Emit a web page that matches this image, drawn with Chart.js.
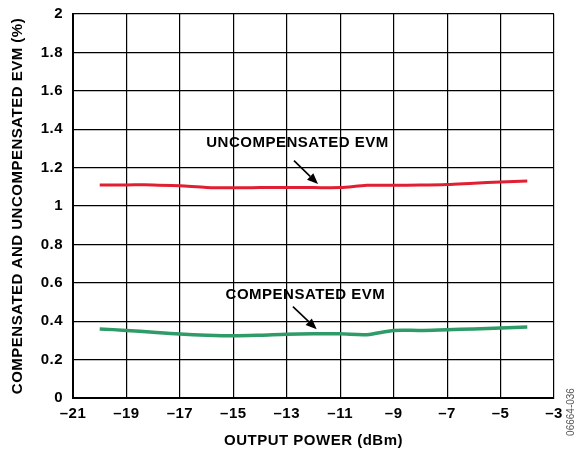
<!DOCTYPE html>
<html>
<head>
<meta charset="utf-8">
<script src="https://cdn.jsdelivr.net/npm/chart.js@4.4.1/dist/chart.umd.min.js"></script>
<style>
  html, body { margin: 0; padding: 0; background: #fff; }
  #wrap { width: 577px; height: 454px; position: relative; }
</style>
</head>
<body>
<div id="wrap"><canvas id="evm"></canvas></div>
<script>
// output power, dBm
const power = [-20, -19, -18, -17, -16, -15, -14, -13, -12, -11, -10, -9, -8, -7, -6, -5, -4];
// EVM, %
const uncompensated = [1.11, 1.11, 1.11, 1.105, 1.097, 1.095, 1.096, 1.097, 1.096, 1.096, 1.108, 1.108, 1.109, 1.112, 1.119, 1.125, 1.13];
const compensated = [0.36, 0.352, 0.342, 0.333, 0.327, 0.324, 0.327, 0.332, 0.334, 0.334, 0.33, 0.352, 0.352, 0.356, 0.36, 0.365, 0.37];

const xTicks = [-21, -19, -17, -15, -13, -11, -9, -7, -5, -3];
const yTicks = [0, 0.2, 0.4, 0.6, 0.8, 1, 1.2, 1.4, 1.6, 1.8, 2];

// callout text and arrow, in data units
const callouts = [
  {text: 'UNCOMPENSATED EVM', x: -12.6, y: 1.33, from: [-12.73, 1.236], to: [-11.83, 1.114]},
  {text: 'COMPENSATED EVM', x: -12.3, y: 0.537, from: [-12.77, 0.476], to: [-11.88, 0.358]}
];

const FONT = "'Liberation Sans', Arial, Helvetica, sans-serif";
const FS = 15;

const calloutPlugin = {
  id: 'callouts',
  beforeDraw(chart) {
    chart.ctx.letterSpacing = '0.5px';
  },
  afterDatasetsDraw(chart) {
    const ctx = chart.ctx;
    const xs = chart.scales.x, ys = chart.scales.y;
    ctx.save();
    callouts.forEach(c => {
      ctx.fillStyle = '#000';
      ctx.font = 'bold ' + FS + 'px ' + FONT;
      ctx.textAlign = 'center';
      ctx.textBaseline = 'middle';
      ctx.fillText(c.text, xs.getPixelForValue(c.x), ys.getPixelForValue(c.y));

      const x0 = xs.getPixelForValue(c.from[0]), y0 = ys.getPixelForValue(c.from[1]);
      const x1 = xs.getPixelForValue(c.to[0]), y1 = ys.getPixelForValue(c.to[1]);
      const ang = Math.atan2(y1 - y0, x1 - x0);
      const head = 11, half = 4.5;
      const bx = x1 - head * Math.cos(ang), by = y1 - head * Math.sin(ang);
      ctx.strokeStyle = '#000';
      ctx.lineWidth = 1.6;
      ctx.beginPath();
      ctx.moveTo(x0, y0);
      ctx.lineTo(bx, by);
      ctx.stroke();
      ctx.beginPath();
      ctx.moveTo(x1, y1);
      ctx.lineTo(bx + half * Math.sin(ang), by - half * Math.cos(ang));
      ctx.lineTo(bx - half * Math.sin(ang), by + half * Math.cos(ang));
      ctx.closePath();
      ctx.fill();
    });
    ctx.restore();
  },
  afterDraw(chart) {
    const ctx = chart.ctx;
    ctx.save();
    ctx.translate(571, 412);
    ctx.rotate(-Math.PI / 2);
    ctx.fillStyle = '#555';
    ctx.letterSpacing = '0px';
    ctx.font = '10px ' + FONT;
    ctx.textAlign = 'center';
    ctx.textBaseline = 'middle';
    ctx.fillText('06664-036', 0, 0);
    ctx.restore();
  }
};

const ctx = document.getElementById('evm').getContext('2d');
const myChart = new Chart(ctx, {
  type: 'line',
  data: {
    datasets: [
    {
      label: 'Uncompensated EVM',
      data: power.map((p, i) => ({x: p, y: uncompensated[i]})),
      borderColor: '#e11f33',
      borderWidth: 3,
      pointRadius: 0,
      tension: 0.3
    },
    {
      label: 'Compensated EVM',
      data: power.map((p, i) => ({x: p, y: compensated[i]})),
      borderColor: '#2e9b68',
      borderWidth: 3.5,
      pointRadius: 0,
      tension: 0.3
    },
    ]
  },
  options: {
    responsive: true,
    maintainAspectRatio: false,
    animation: false,
    layout: {
      padding: {top: 14, right: 23, left: 0, bottom: 0}
    },
    plugins: {
      legend: {display: false},
      tooltip: {enabled: false}
    },
    scales: {
      x: {
        type: 'linear',
        min: -21,
        max: -3,
        afterBuildTicks: s => { s.ticks = xTicks.map(v => ({value: v})); },
        afterFit: s => { s.height = 56; s.paddingLeft = 0; s.paddingRight = 0; },
        grid: {
          color: '#000',
          lineWidth: 1.2,
          drawTicks: false
        },
        border: {color: '#000', width: 2},
        ticks: {
          color: '#000',
          padding: 7,
          maxRotation: 0,
          font: {family: FONT, size: FS, weight: 'bold'},
          callback: v => String(v).replace('-', '\u2013')
        },
        title: {
          display: true,
          text: 'OUTPUT POWER (dBm)',
          color: '#000',
          font: {family: FONT, size: FS, weight: 'bold'},
          padding: {top: 0, bottom: 4}
        }
      },
      y: {
        min: 0,
        max: 2,
        afterBuildTicks: s => { s.ticks = yTicks.map(v => ({value: v})); },
        afterFit: s => { s.width = 73; s.paddingTop = 0; s.paddingBottom = 0; },
        grid: {
          color: '#000',
          lineWidth: 1.2,
          drawTicks: false
        },
        border: {color: '#000', width: 2},
        ticks: {
          color: '#000',
          padding: 10,
          font: {family: FONT, size: FS, weight: 'bold'},
          callback: v => String(Math.round(v * 10) / 10)
        },
        title: {
          display: true,
          text: 'COMPENSATED AND UNCOMPENSATED EVM (%)',
          color: '#000',
          font: {family: FONT, size: FS, weight: 'bold'},
          padding: {top: 9, bottom: 0}
        }
      }
    }
  },
  plugins: [calloutPlugin]
});
</script>
</body>
</html>
